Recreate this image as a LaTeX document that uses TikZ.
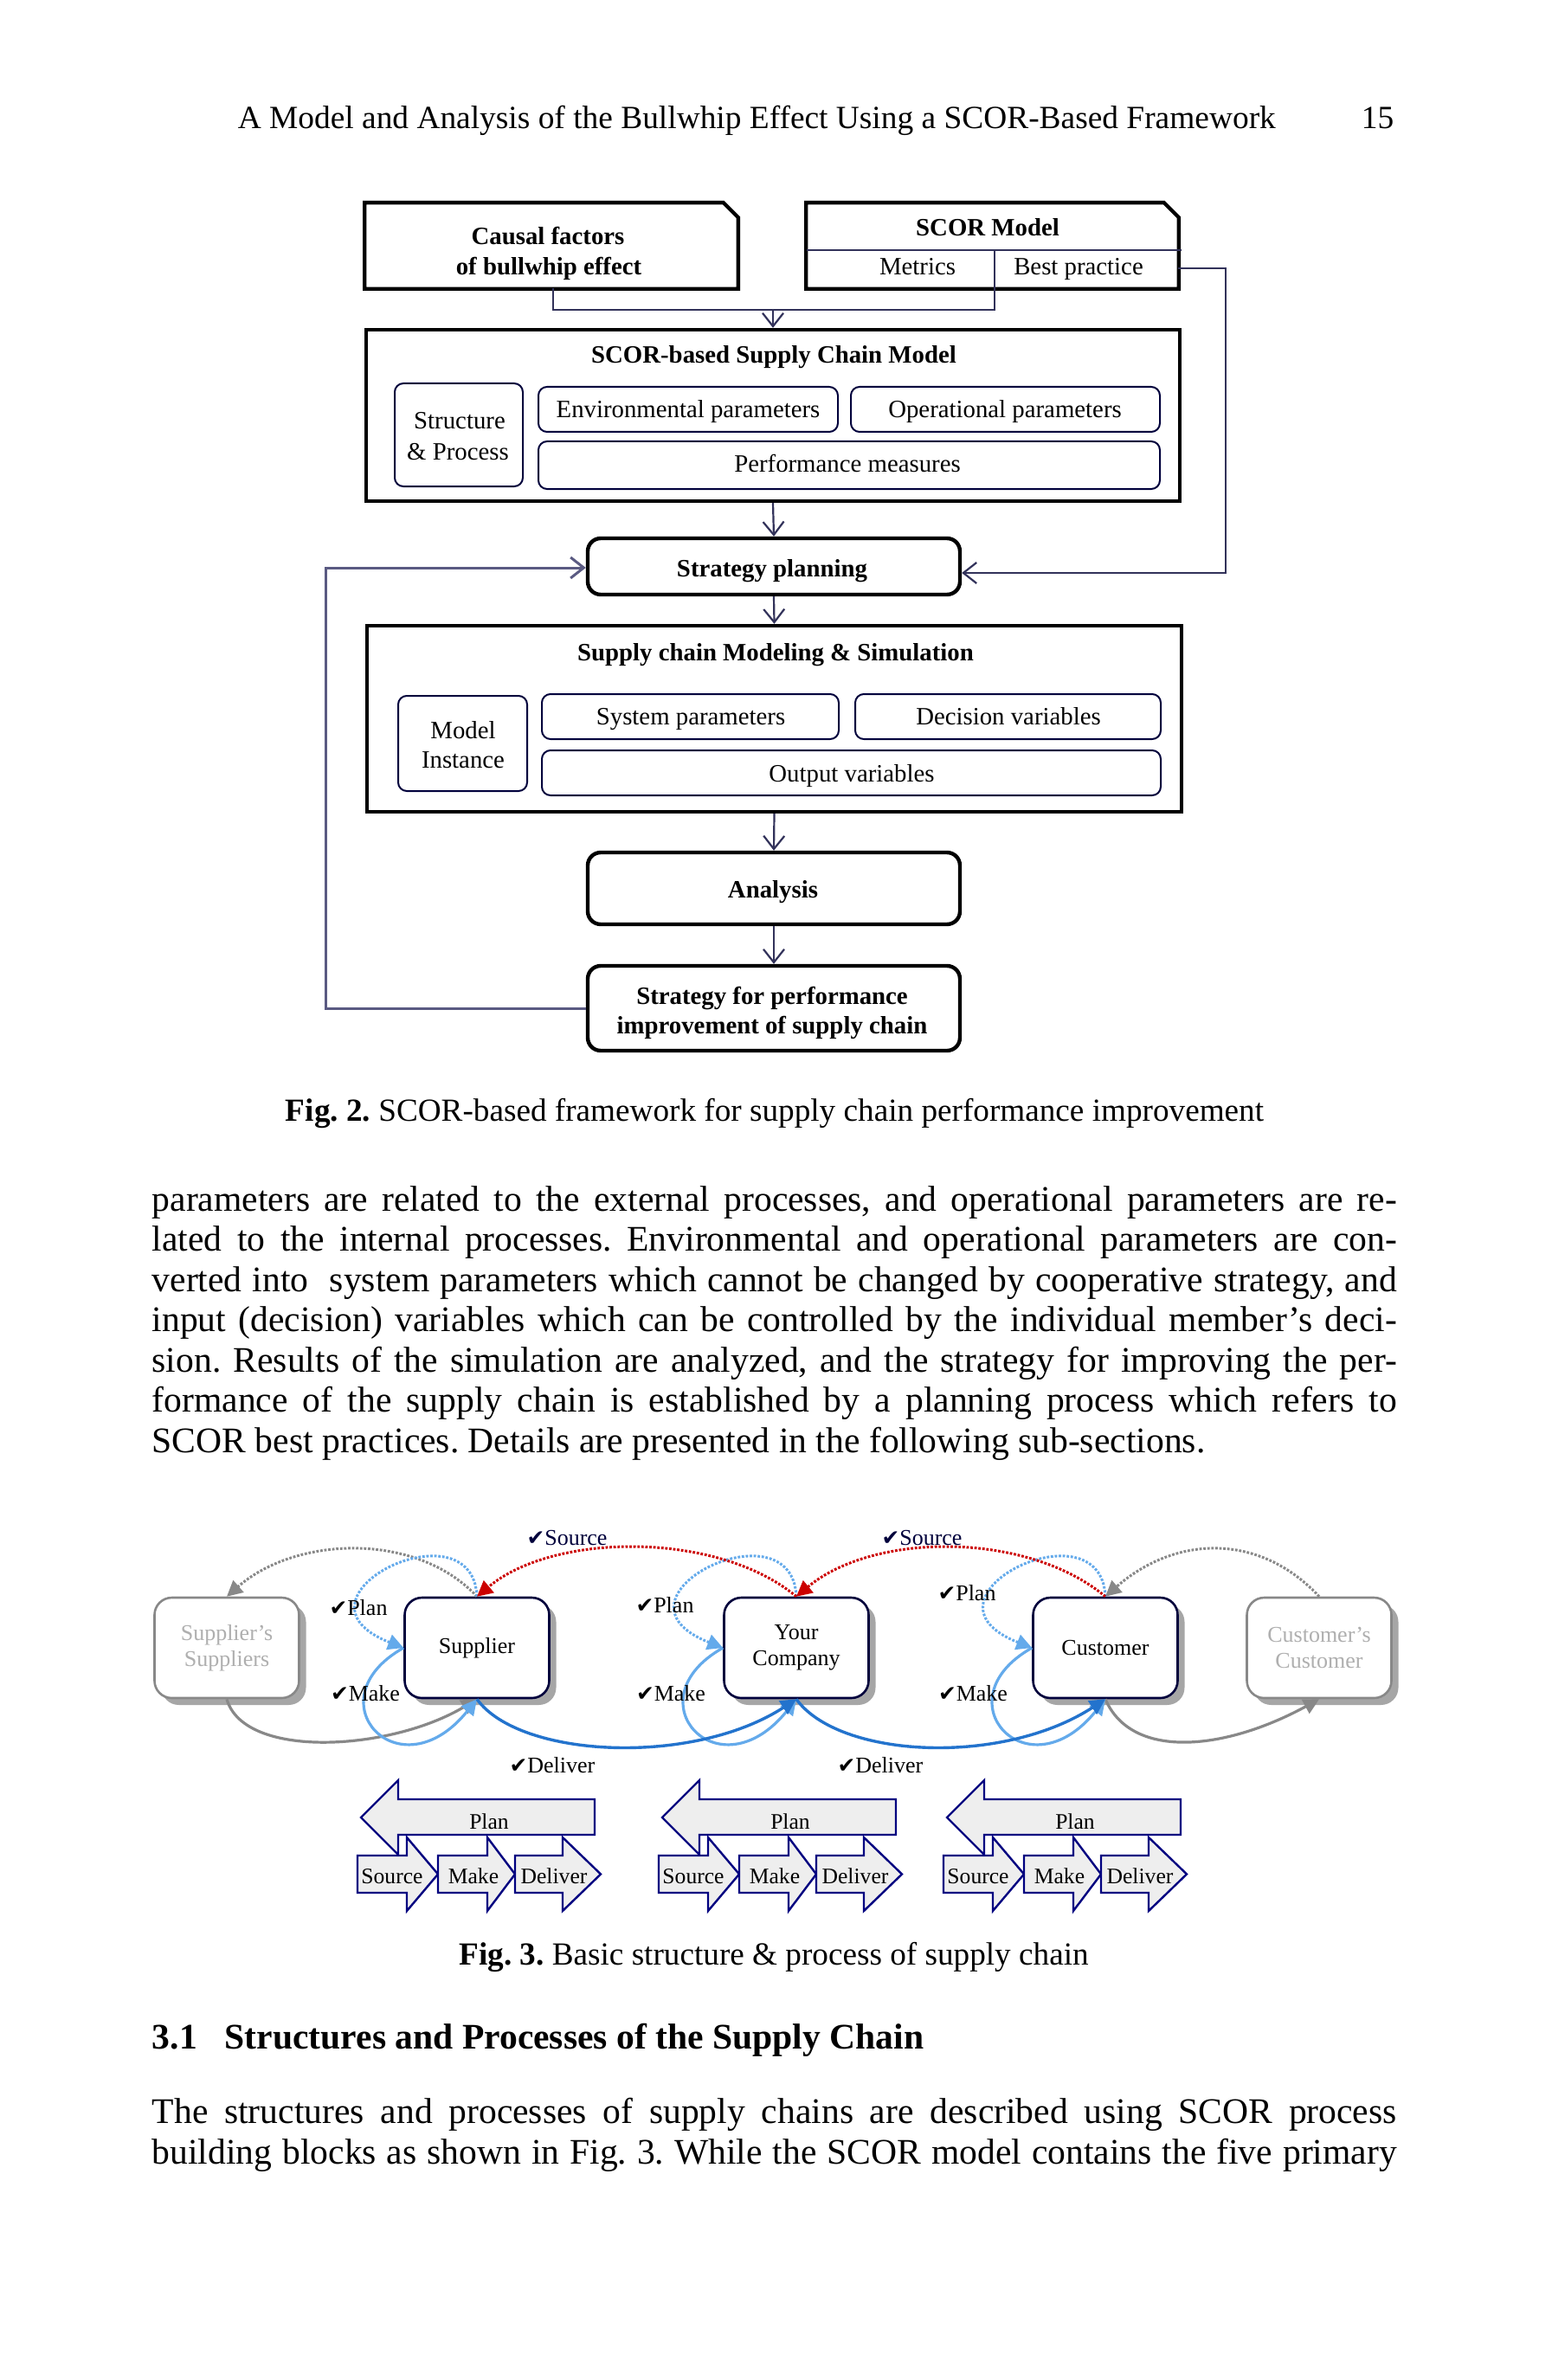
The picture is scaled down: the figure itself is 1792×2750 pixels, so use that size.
\documentclass[tikz,border=0pt]{standalone}
\usepackage{fontspec}
\setmainfont{Liberation Serif}
\newfontfamily\symf{DejaVu Sans}
\usetikzlibrary{arrows.meta,fit,shadows}
\frenchspacing
\definecolor{navy}{RGB}{0,0,60}
\definecolor{connc}{RGB}{50,50,90}
\definecolor{connd}{RGB}{90,90,130}
\definecolor{redd}{RGB}{204,0,0}
\definecolor{lblue}{RGB}{100,170,235}
\definecolor{dblue}{RGB}{35,115,205}
\definecolor{gline}{RGB}{136,136,136}
\definecolor{gtext}{RGB}{175,175,175}
\definecolor{pfill}{RGB}{238,238,238}
\definecolor{pline}{RGB}{0,0,128}
\newcommand\ftwo{\fontsize{7.2pt}{9pt}\selectfont}
\newcommand\ftwob{\fontsize{7.2pt}{9pt}\selectfont\bfseries}
\newcommand\fthree{\fontsize{6.5pt}{7.5pt}\selectfont}
\newcommand\fproc{\fontsize{6.4pt}{7.5pt}\selectfont}
\newcommand\bodyf{\fontsize{10.4pt}{11.6pt}\selectfont}
\newcommand\capf{\fontsize{9.3pt}{11pt}\selectfont}
\newcommand\headf{\fontsize{9.35pt}{11pt}\selectfont}
\newcommand\chk{{\symf\fontsize{6.2pt}{6pt}\selectfont ✔}}
\newcommand\jl[1]{\hbox to 359.5pt{#1}}
\newcommand\twol[2]{\raisebox{-1pt}{\vbox{\fthree\baselineskip=7.5pt\halign{\hfil##\hfil\cr #1\cr #2\cr}}}}
\tikzset{
 thickbox/.style={draw=black, line width=1.1pt, inner sep=0pt},
 rthick/.style={thickbox, rounded corners=3.75pt},
 thinbox/.style={draw=navy, line width=0.5pt, rounded corners=2.5pt, inner sep=0pt},
 plainfit/.style={inner sep=0pt},
 lab2/.style={font=\ftwo, inner sep=0pt, anchor=base},
 lab2b/.style={font=\ftwob, inner sep=0pt, anchor=base},
 conn/.style={draw=connc, line width=0.55pt},
 arr/.style={conn, -{Straight Barb[length=3.8pt,width=6pt]}},
 fbarr/.style={arr, draw=connd, line width=0.75pt},
 sbox/.style={draw=navy, line width=0.65pt, rounded corners=5pt, fill=white,
   minimum width=41.75pt, minimum height=29pt, inner sep=0pt, align=center, font=\fthree,
   drop shadow={shadow xshift=2pt, shadow yshift=-2pt, fill=black!35, opacity=1}},
 gbox/.style={sbox, draw=gline, text=gtext},
 lab3/.style={font=\fthree, inner sep=0pt, anchor=base},
 labp/.style={font=\fproc, inner sep=0pt, anchor=base},
 dotl/.style={line width=0.75pt, dash pattern=on 0.7pt off 0.45pt},
 rdot/.style={dotl, draw=redd, -{Triangle[length=4.5pt,width=4.5pt]}},
 gdot/.style={dotl, draw=gline, -{Triangle[length=4.5pt,width=4.5pt]}},
 bdot/.style={dotl, draw=lblue, -{Triangle[length=4.5pt,width=4.5pt]}},
 bsol/.style={line width=0.8pt, draw=lblue, -{Triangle[length=4.5pt,width=4.5pt]}},
 dsol/.style={line width=0.85pt, draw=dblue, -{Triangle[length=4.5pt,width=4.5pt]}},
 gsol/.style={line width=0.8pt, draw=gline, -{Triangle[length=4.5pt,width=4.5pt]}},
 procs/.style={draw=pline, fill=pfill, line width=0.6pt, line join=miter},
 bodyl/.style={font=\bodyf, inner sep=0pt, anchor=base west},
}
\newcommand\procgroup[2]{%
\begin{scope}[shift={(#1,0)}]
\draw[procs] (0,2100) -- (43,2057) -- (43,2079) -- (270,2079) -- (270,2120) -- (43,2120) -- (43,2143) -- cycle;
\draw[procs] (-4,2144) -- (53,2144) -- (53,2123) -- (89,2165.5) -- (53,2208) -- (53,2187) -- (-4,2187) -- cycle;
\draw[procs] (89,2144) -- (146,2144) -- (146,2123) -- (178,2165.5) -- (146,2208) -- (146,2187) -- (89,2187) -- cycle;
\draw[procs] (178,2144) -- (233,2144) -- (233,2123) -- (277,2165.5) -- (233,2208) -- (233,2187) -- (178,2187) -- cycle;
\node[labp] (#2plan) at (148,2113) {Plan};
\node[labp] (#2source) at (36,2176) {Source};
\node[labp] (#2make) at (130,2176) {Make};
\node[labp] (#2deliver) at (223,2176) {Deliver};
\end{scope}}
\begin{document}
\begin{tikzpicture}[x=0.25pt,y=-0.25pt]
\useasboundingbox[fill=white] (0,0) rectangle (1792,2750);

% running head
\node[font=\headf, inner sep=0pt, anchor=base west] (head) at (274,149) {A Model and Analysis of the Bullwhip Effect Using a SCOR-Based Framework};
\node[font=\headf, inner sep=0pt, anchor=base east] (pagenum) at (1611,149) {15};

% ---------- Fig. 2 ----------
\node[plainfit, fit={(422,235) (852,333)}] (causal) {};
\draw[black, line width=1.1pt] (causal.south west) -- (causal.north west) -- ([xshift=-4.25pt]causal.north east) -- ([yshift=-4.25pt]causal.north east) -- (causal.south east) -- cycle;
\node[lab2b] (causal1) at (633,283) {Causal factors};
\node[lab2b] (causal2) at (634,318) {of bullwhip effect};

\node[plainfit, fit={(932,235) (1361,333)}] (scor) {};
\draw[black, line width=1.1pt] (scor.south west) -- (scor.north west) -- ([xshift=-4.25pt]scor.north east) -- ([yshift=-4.25pt]scor.north east) -- (scor.south east) -- cycle;
\coordinate (divl) at (932,289);
\coordinate (divr) at (1365,289);
\coordinate (mettop) at (1149,289);
\coordinate (metbot) at (1149,333);
\draw[conn] (divl) -- (divr);
\draw[conn] (mettop) -- (metbot);
\node[lab2b] (scort) at (1141,273) {SCOR Model};
\node[lab2] (metrics) at (1060,318) {Metrics};
\node[lab2] (bestp) at (1246,318) {Best practice};

\node[thickbox, fit={(423,381) (1363,579)}] (scm) {};
\node[lab2b] (scmt) at (894,420) {SCOR-based Supply Chain Model};
\node[thinbox, fit={(456,443) (604,562)}] (struct) {};
\node[lab2] (struct1) at (531,496) {Structure};
\node[lab2] (struct2) at (529,531) {\& Process};
\node[thinbox, fit={(622,447) (968,499)}] (env) {};
\node[lab2] (envt) at (795,483) {Environmental parameters};
\node[thinbox, fit={(983,447) (1340,499)}] (oper) {};
\node[lab2] (opert) at (1161,483) {Operational parameters};
\node[thinbox, fit={(622,510) (1340,565)}] (perf) {};
\node[lab2] (perft) at (979,545) {Performance measures};

\node[rthick, fit={(679,622) (1109,687)}] (sp) {};
\node[lab2b] (spt) at (892,666) {Strategy planning};

\node[thickbox, fit={(424,723) (1365,938)}] (sim) {};
\node[lab2b] (simt) at (896,763) {Supply chain Modeling \& Simulation};
\node[thinbox, fit={(460,804) (609,914)}] (inst) {};
\node[lab2] (inst1) at (535,853) {Model};
\node[lab2] (inst2) at (535,887) {Instance};
\node[thinbox, fit={(626,802) (969,854)}] (sys) {};
\node[lab2] (syst) at (798,837) {System parameters};
\node[thinbox, fit={(988,802) (1341,854)}] (dec) {};
\node[lab2] (dect) at (1165,837) {Decision variables};
\node[thinbox, fit={(626,867) (1341,919)}] (outv) {};
\node[lab2] (outt) at (984,903) {Output variables};

\node[rthick, fit={(679,985) (1109,1068)}] (ana) {};
\node[lab2b] (anat) at (893,1037) {Analysis};
\node[rthick, fit={(679,1116) (1109,1214)}] (spi) {};
\node[lab2b] (spi1) at (892,1160) {Strategy for performance};
\node[lab2b] (spi2) at (892,1194) {improvement of supply chain};

% connectors fig 2
\coordinate (jl) at (639,358);
\coordinate (jr) at (1149,358);
\coordinate (jm) at (893,358);
\coordinate (cbot) at (639,333);
\draw[conn] (cbot) -- (jl) -- (jr) -- (metbot);
\draw[arr] (jm) -- (scm.north);
\coordinate (bp) at (1361,310);
\coordinate (bpc1) at (1416,310);
\coordinate (bpc2) at (1416,662);
\draw[arr] (bp) -- (bpc1) -- (bpc2) -- (bpc2 -| sp.east);
\draw[arr] (scm.south) -- (sp.north);
\draw[arr] (sp.south) -- (sim.north);
\draw[arr] (sim.south) -- (ana.north);
\draw[arr] (ana.south) -- (spi.north);
\coordinate (fb1) at (376,1165);
\coordinate (fb2) at (376,656);
\draw[fbarr] (spi.west) -- (fb1) -- (fb2) -- (fb2 -| sp.west);

\node[font=\capf, inner sep=0pt, anchor=base] (cap2) at (895,1295) {\textbf{Fig. 2.} SCOR-based framework for supply chain performance improvement};

% ---------- body text ----------
\node[bodyl] (l1) at (175,1399) {\jl{parameters are related to the external processes, and operational parameters are re-}};
\node[bodyl] (l2) at (175,1445.5) {\jl{lated to the internal processes. Environmental and operational parameters are con-}};
\node[bodyl] (l3) at (175,1492) {\jl{verted into\ \ system parameters which cannot be changed by cooperative strategy, and}};
\node[bodyl] (l4) at (175,1538.5) {\jl{input (decision) variables which can be controlled by the individual member’s deci-}};
\node[bodyl] (l5) at (175,1585) {\jl{sion. Results of the simulation are analyzed, and the strategy for improving the per-}};
\node[bodyl] (l6) at (175,1631.5) {\jl{formance of the supply chain is established by a planning process which refers to}};
\node[bodyl] (l7) at (175,1678) {SCOR best practices. Details are presented in the following sub-sections.};

% ---------- Fig. 3 ----------
\node[gbox] (ss) at (262,1904) {\twol{Supplier’s}{Suppliers}};
\node[sbox] (sup) at (551,1904) {\raisebox{-0.6pt}{Supplier}};
\node[sbox] (yc) at (920,1904) {\twol{Your}{Company}};
\node[sbox] (cus) at (1277,1904) {\raisebox{-0.6pt}{Customer}};
\node[gbox] (cc) at (1524,1904) {\twol{Customer’s}{Customer}};

\draw[gdot] (sup.north) .. controls +(-70,-75) and +(80,-70) .. (ss.north);
\draw[gdot] (cc.north) .. controls +(-70,-75) and +(80,-70) .. (cus.north);
\draw[bdot] (sup.north) .. controls +(-5,-110) and +(-147,-58) .. (sup.west);
\draw[bdot] (yc.north) .. controls +(-5,-110) and +(-147,-58) .. (yc.west);
\draw[bdot] (cus.north) .. controls +(-5,-110) and +(-147,-58) .. (cus.west);
\draw[rdot] (yc.north) .. controls +(-90,-75) and +(90,-75) .. (sup.north);
\draw[rdot] (cus.north) .. controls +(-90,-75) and +(90,-75) .. (yc.north);
\draw[gsol] (ss.south) .. controls +(20,70) and +(-100,60) .. (sup.south);
\draw[gsol] (cus.south) .. controls +(30,70) and +(-110,60) .. (cc.south);
\draw[bsol] (sup.west) .. controls +(-107,60) and +(-90,112) .. (sup.south);
\draw[bsol] (yc.west) .. controls +(-107,60) and +(-90,112) .. (yc.south);
\draw[bsol] (cus.west) .. controls +(-107,60) and +(-90,112) .. (cus.south);
\draw[dsol] (sup.south) .. controls +(49,68) and +(-120,78) .. (yc.south);
\draw[dsol] (yc.south) .. controls +(49,68) and +(-120,78) .. (cus.south);

\node[lab3, text=navy] (src1) at (655,1785) {\chk Source};
\node[lab3, text=navy] (src2) at (1065,1785) {\chk Source};
\node[lab3] (plan1) at (414,1866) {\chk Plan};
\node[lab3] (plan2) at (768,1863) {\chk Plan};
\node[lab3] (plan3) at (1117,1849) {\chk Plan};
\node[lab3] (make1) at (422,1965) {\chk Make};
\node[lab3] (make2) at (775,1965) {\chk Make};
\node[lab3] (make3) at (1124,1965) {\chk Make};
\node[lab3] (del1) at (638,2048) {\chk Deliver};
\node[lab3] (del2) at (1017,2048) {\chk Deliver};

\procgroup{417}{ga}
\procgroup{765}{gb}
\procgroup{1094}{gc}

\node[font=\capf, inner sep=0pt, anchor=base] (cap3) at (894,2270) {\textbf{Fig. 3.} Basic structure \& process of supply chain};

% ---------- section ----------
\node[bodyl, font=\bodyf\bfseries] (secn) at (175,2367) {3.1};
\node[bodyl, font=\bodyf\bfseries] (sect) at (259,2367) {Structures and Processes of the Supply Chain};
\node[bodyl] (m1) at (175,2453) {\jl{The structures and processes of supply chains are described using SCOR process}};
\node[bodyl] (m2) at (175,2500) {\jl{building blocks as shown in Fig. 3. While the SCOR model contains the five primary}};
\end{tikzpicture}
\end{document}
